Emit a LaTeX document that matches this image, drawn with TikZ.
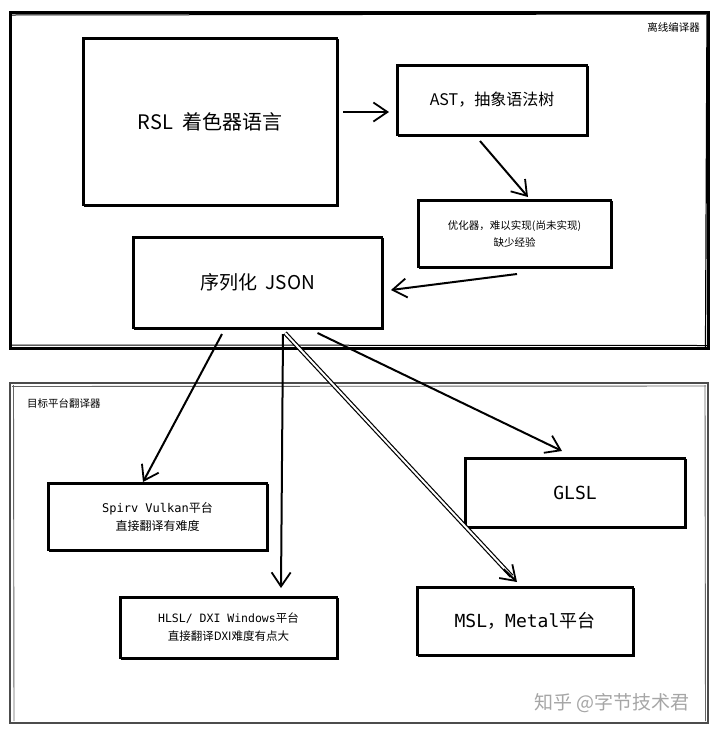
\documentclass[tikz,border=0pt]{standalone}
\usepackage{fontspec}
\setmainfont{Noto Sans CJK SC}
\newfontfamily\cjk{Noto Sans CJK SC}
\newfontfamily\mono{DejaVu Sans Mono}
\usetikzlibrary{arrows.meta,calc}
\tikzset{
  box/.style={draw, line width=2pt, inner sep=0pt, align=center,
    postaction={draw, line width=0.9pt, transform canvas={shift={(1.8pt,-1.4pt)}}}},
  arr/.style={line width=2pt, -{Straight Barb[length=14pt,width=19pt,line width=1.8pt]}},
  dblline/.style={line width=1.2pt, double, double distance=2pt},
  lbl/.style={inner sep=0pt, font=\fontsize{10.5}{12}\selectfont},
}
\begin{document}
\begin{tikzpicture}[x=1pt,y=-1pt]
\useasboundingbox[fill=white] (0,0) rectangle (720,732);
% frames
\draw[line width=3pt] (10,12) rectangle (708,348);
\draw[line width=1pt] (12,15) -- (706,14);
\draw[line width=1pt] (11,345) -- (707,345.5);
\draw[line width=1.2pt] (707,13) -- (705.5,347);
\draw[line width=2pt, black!70] (10,383) rectangle (708,723);
\draw[line width=0.9pt, black!60] (12,386.5) -- (706,386);
\draw[line width=0.9pt, black!60] (13.5,385) -- (14,721);
\draw[line width=0.9pt, black!60] (705,385) -- (705.5,721);
\node[lbl, anchor=east] (lab1) at (700,27) {离线编译器};
\node[lbl, anchor=west] (lab2) at (27,403) {目标平台翻译器};
% boxes
\node[box, minimum width=254pt, minimum height=167pt, font=\fontsize{20}{24}\selectfont] (rsl) at (210,121.5) {RSL\ \ 着色器语言};
\node[box, minimum width=190pt, minimum height=70pt, font=\fontsize{16}{19}\selectfont] (ast) at (492,100) {AST，抽象语法树};
\node[box, minimum width=193pt, minimum height=67pt, font=\fontsize{10.5}{17}\selectfont] (opt) at (514.5,233.5) {优化器，难以实现(尚未实现)\\缺少经验};
\node[box, minimum width=249pt, minimum height=91pt, font=\fontsize{19}{22}\selectfont] (json) at (257.5,282.5) {序列化\ \ JSON};
\node[box, minimum width=219pt, minimum height=67pt, font=\fontsize{12}{18}\selectfont] (spirv) at (157.5,516.5) {{\mono Spirv Vulkan}{\cjk 平台}\\{\cjk 直接翻译有难度}};
\node[box, minimum width=217pt, minimum height=61pt, font=\fontsize{11.5}{18}\selectfont] (hlsl) at (228.5,627.5) {{\mono HLSL/ DXI Windows}{\cjk 平台}\\{\cjk 直接翻译DXI难度有点大}};
\node[box, minimum width=220pt, minimum height=69pt, font=\fontsize{18}{21}\selectfont] (glsl) at (575,492.5) {\mono GLSL};
\node[box, minimum width=216pt, minimum height=68pt, font=\fontsize{18}{21}\selectfont] (msl) at (525,621) {{\mono MSL}{\cjk ，}{\mono Metal}{\cjk 平台}};
% connectors
\draw[arr] ($(rsl.east)+(5,-9.5)$) -- ($(ast.west)+(-7,12)$);
\draw[arr] ($(ast.south)+(-12,5)$) -- ($(opt.north)+(13.5,-2)$);
\draw[arr] ($(opt.south)+(2.5,6)$) -- ($(json.east)+(8,7.5)$);
\draw[arr] ($(json.south)+(-35.5,5)$) -- ($(spirv.north)+(-14.5,0)$);
\draw[arr] ($(json.south)+(25.5,5)$) -- ($(hlsl.north)+(52.5,-8)$);
\draw[arr] ($(json.south)+(60,4)$) -- ($(glsl.north)+(-13,-6)$);
\draw[dblline, shorten >=8pt] ($(json.south)+(27.5,4)$) -- ($(msl.north)+(-8,-4)$);
\draw[arr] ($(json.south)!0.95!(msl.north)+(-8,-4)$) -- ($(msl.north)+(-8,-4)$);
% watermark
\node[inner sep=0pt, text=black!35, font=\fontsize{19}{22}\selectfont] (wm) at (612,703) {知乎 @字节技术君};
\end{tikzpicture}
\end{document}
